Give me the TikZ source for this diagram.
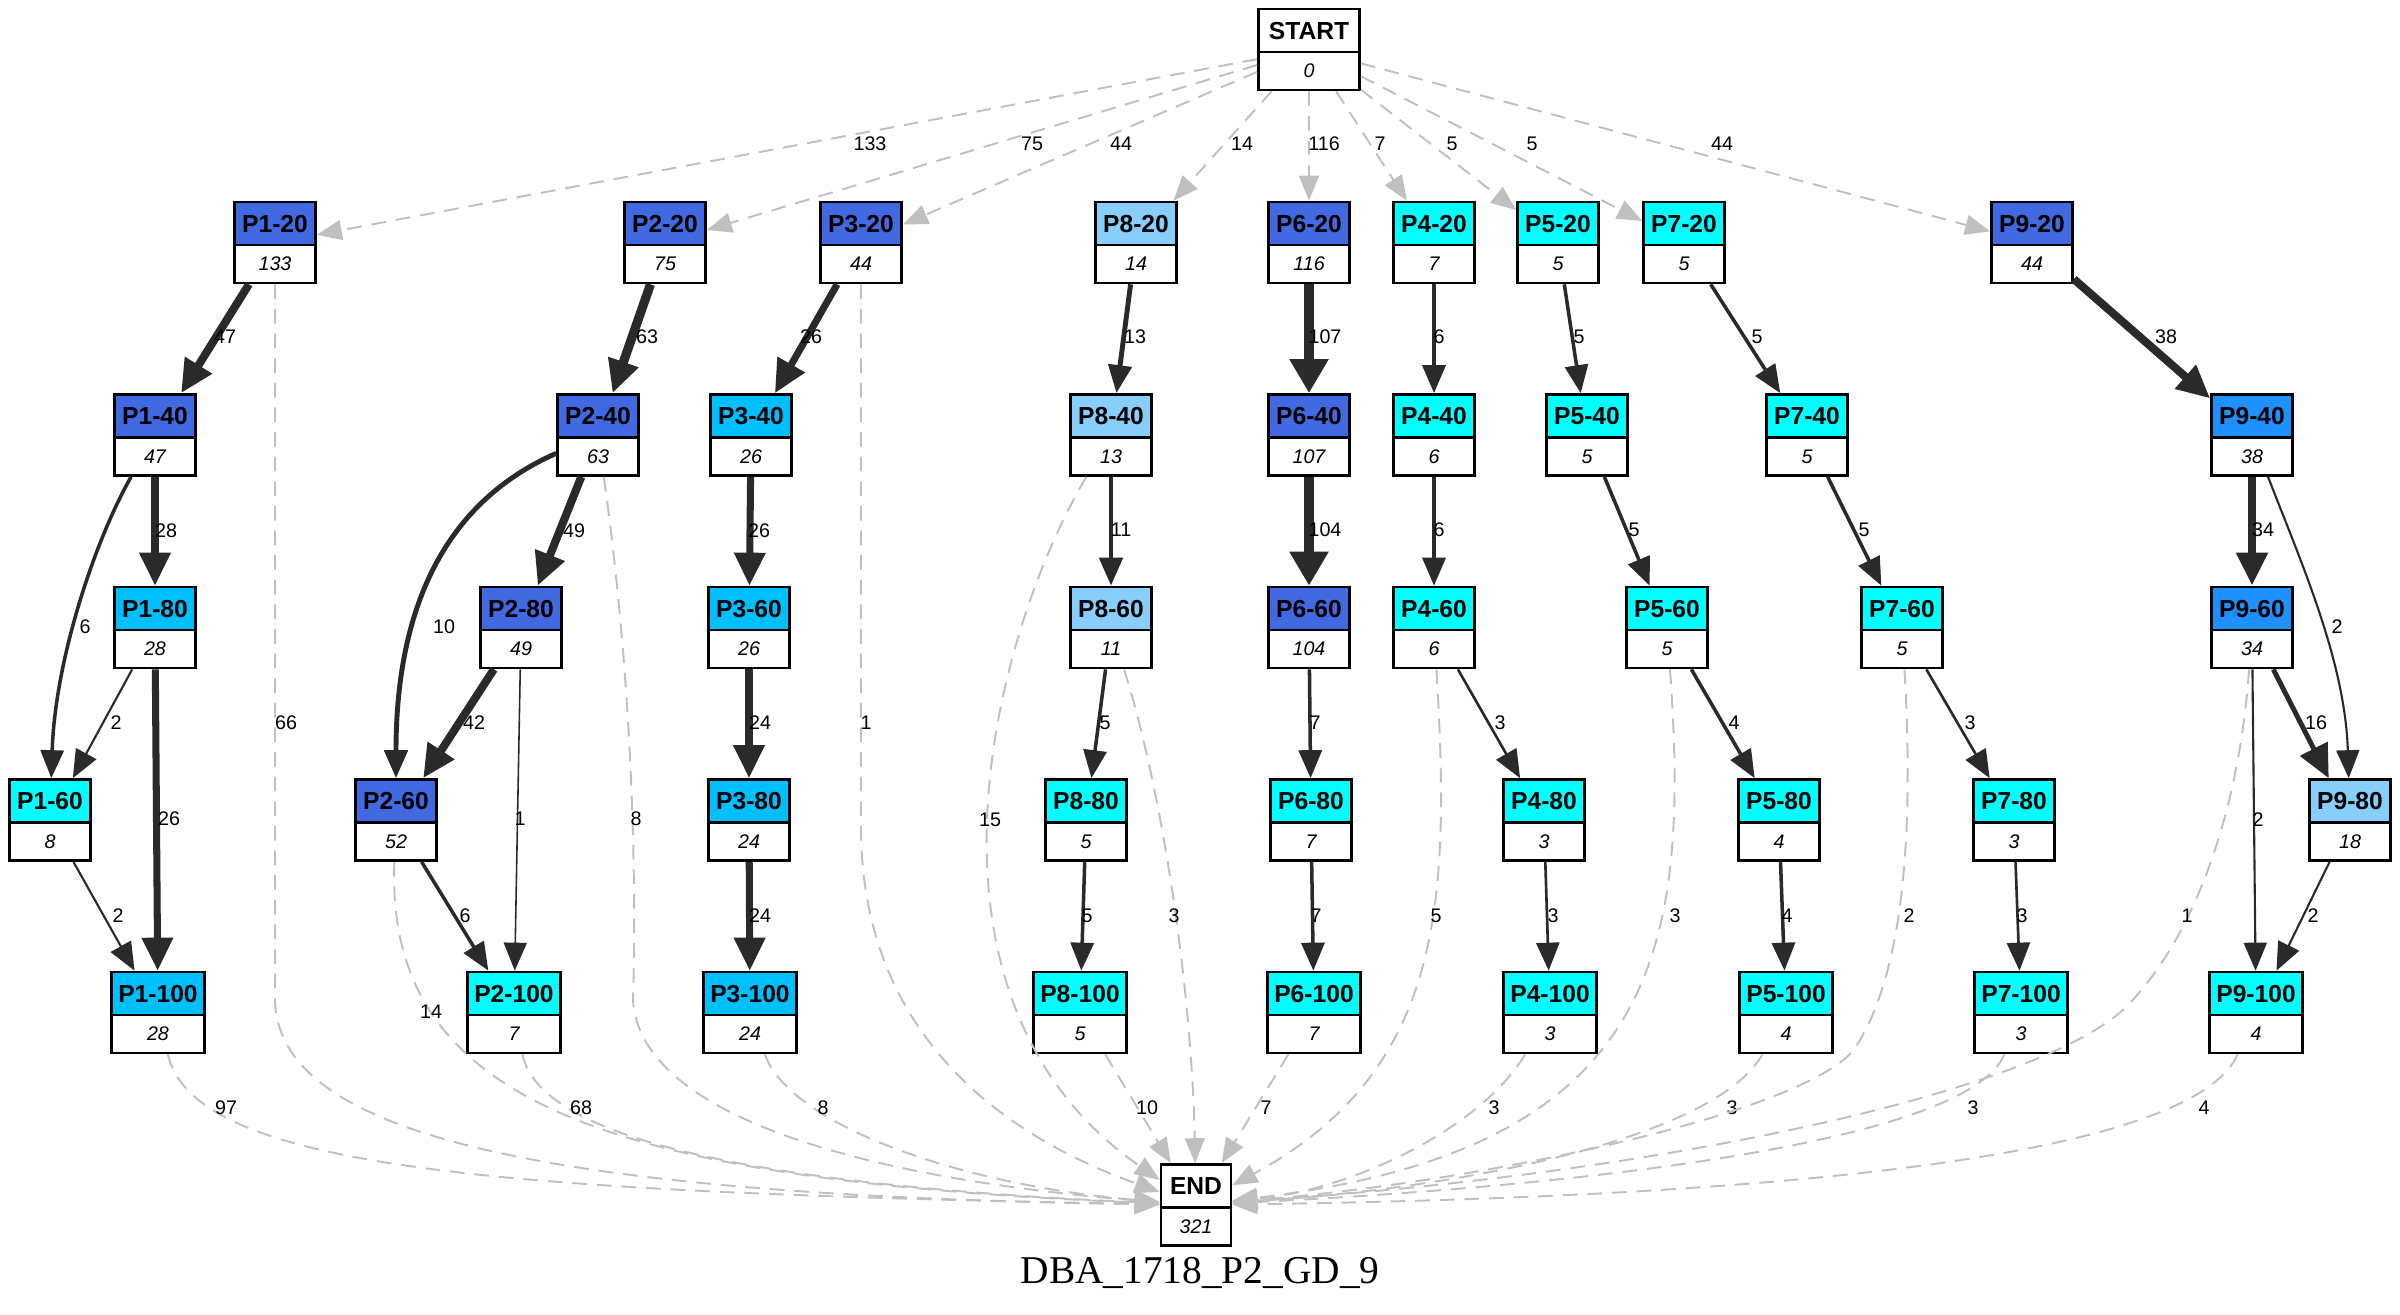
\documentclass[tikz,border=0pt]{standalone}
\usepackage{fontspec}
\setmainfont{Liberation Serif}
\newfontfamily\arialfam{Liberation Sans}
\usetikzlibrary{arrows.meta}
\definecolor{royal}{HTML}{4169E1}
\definecolor{deepsky}{HTML}{00BFFF}
\definecolor{lightsky}{HTML}{87CEFA}
\definecolor{aqua}{HTML}{00FFFF}
\definecolor{dodger}{HTML}{1E90FF}
\definecolor{ink}{HTML}{2A2A2A}
\definecolor{mist}{HTML}{C0C0C0}

\begin{document}
\begin{tikzpicture}[x=0.01cm, y=-0.01cm,
    rec/.style 2 args={draw=black, line width=0.75pt, fill=white,
        inner xsep=0.07cm, inner ysep=0pt, minimum width=0.81cm,
        text height=0.303cm, text depth=0.507cm,
        font=\fontsize{7}{8}\selectfont\arialfam\bfseries,
        path picture={
            \fill[#1] (path picture bounding box.north west) rectangle ([yshift=-0.43cm]path picture bounding box.north east);
            \draw[line width=0.75pt] ([yshift=-0.43cm]path picture bounding box.north west) -- ([yshift=-0.43cm]path picture bounding box.north east);
        },
        label={[vlab]center:#2}},
    vlab/.style={font=\fontsize{5.6}{6.5}\selectfont\arialfam\itshape, inner sep=0pt, yshift=-0.215cm},
    lbl/.style={font=\fontsize{5.6}{6.5}\selectfont\arialfam, inner sep=0pt},
    flow/.style={draw=ink, line width=#1, -{Triangle[length=0.28cm, width=0.23cm]}},
    flowb/.style={draw=ink, line width=#1, -{Triangle[length=0.33cm, width=0.30cm]}},
    flowh/.style={draw=ink, line width=#1, -{Triangle[length=0.34cm, width=0.37cm]}},
    faint/.style={draw=mist, line width=0.55pt, dash pattern=on 4.2pt off 2.8pt,
        -{Triangle[length=0.25cm, width=0.20cm]}}
]
    \useasboundingbox (0,0) rectangle (2400,1314);

    \node[rec={white}{0}, minimum width=1.01cm] (start) at (1309,49.5) {START};

    \node[rec={royal}{133}] (p1-20) at (275,242.5) {P1-20};
    \node[rec={royal}{75}] (p2-20) at (665,242.5) {P2-20};
    \node[rec={royal}{44}] (p3-20) at (861,242.5) {P3-20};
    \node[rec={lightsky}{14}] (p8-20) at (1136,242.5) {P8-20};
    \node[rec={royal}{116}] (p6-20) at (1309,242.5) {P6-20};
    \node[rec={aqua}{7}] (p4-20) at (1434,242.5) {P4-20};
    \node[rec={aqua}{5}] (p5-20) at (1558,242.5) {P5-20};
    \node[rec={aqua}{5}] (p7-20) at (1684,242.5) {P7-20};
    \node[rec={royal}{44}] (p9-20) at (2032,242.5) {P9-20};

    \node[rec={royal}{47}] (p1-40) at (155,435) {P1-40};
    \node[rec={royal}{63}] (p2-40) at (598,435) {P2-40};
    \node[rec={deepsky}{26}] (p3-40) at (751,435) {P3-40};
    \node[rec={lightsky}{13}] (p8-40) at (1111,435) {P8-40};
    \node[rec={royal}{107}] (p6-40) at (1309,435) {P6-40};
    \node[rec={aqua}{6}] (p4-40) at (1434,435) {P4-40};
    \node[rec={aqua}{5}] (p5-40) at (1587,435) {P5-40};
    \node[rec={aqua}{5}] (p7-40) at (1807,435) {P7-40};
    \node[rec={dodger}{38}] (p9-40) at (2252,435) {P9-40};

    \node[rec={deepsky}{28}] (p1-80) at (155,627.5) {P1-80};
    \node[rec={royal}{49}] (p2-80) at (521,627.5) {P2-80};
    \node[rec={deepsky}{26}] (p3-60) at (749,627.5) {P3-60};
    \node[rec={lightsky}{11}] (p8-60) at (1111,627.5) {P8-60};
    \node[rec={royal}{104}] (p6-60) at (1309,627.5) {P6-60};
    \node[rec={aqua}{6}] (p4-60) at (1434,627.5) {P4-60};
    \node[rec={aqua}{5}] (p5-60) at (1667,627.5) {P5-60};
    \node[rec={aqua}{5}] (p7-60) at (1902,627.5) {P7-60};
    \node[rec={dodger}{34}] (p9-60) at (2252,627.5) {P9-60};

    \node[rec={aqua}{8}] (p1-60) at (50,820) {P1-60};
    \node[rec={royal}{52}] (p2-60) at (396,820) {P2-60};
    \node[rec={deepsky}{24}] (p3-80) at (749,820) {P3-80};
    \node[rec={aqua}{5}] (p8-80) at (1086,820) {P8-80};
    \node[rec={aqua}{7}] (p6-80) at (1311,820) {P6-80};
    \node[rec={aqua}{3}] (p4-80) at (1544,820) {P4-80};
    \node[rec={aqua}{4}] (p5-80) at (1779,820) {P5-80};
    \node[rec={aqua}{3}] (p7-80) at (2014,820) {P7-80};
    \node[rec={lightsky}{18}] (p9-80) at (2350,820) {P9-80};

    \node[rec={deepsky}{28}] (p1-100) at (158,1012.5) {P1-100};
    \node[rec={aqua}{7}] (p2-100) at (514,1012.5) {P2-100};
    \node[rec={deepsky}{24}] (p3-100) at (750,1012.5) {P3-100};
    \node[rec={aqua}{5}] (p8-100) at (1080,1012.5) {P8-100};
    \node[rec={aqua}{7}] (p6-100) at (1314,1012.5) {P6-100};
    \node[rec={aqua}{3}] (p4-100) at (1550,1012.5) {P4-100};
    \node[rec={aqua}{4}] (p5-100) at (1786,1012.5) {P5-100};
    \node[rec={aqua}{3}] (p7-100) at (2021,1012.5) {P7-100};
    \node[rec={aqua}{4}] (p9-100) at (2256,1012.5) {P9-100};

    \node[rec={white}{321}, minimum width=0.70cm] (finish) at (1196,1205) {END};

    \node[font=\fontsize{11.2}{13}\selectfont, anchor=base] (title) at (1200,1283) {DBA\_1718\_P2\_GD\_9};

    % from START
    \draw[faint] (start) -- (p1-20) node[lbl, at={(870,144)}] {133};
    \draw[faint] (start) -- (p2-20) node[lbl, at={(1032,144)}] {75};
    \draw[faint] (start) -- (p3-20) node[lbl, at={(1121,144)}] {44};
    \draw[faint] (start) -- (p8-20) node[lbl, at={(1242,144)}] {14};
    \draw[faint] (start) -- (p6-20) node[lbl, at={(1324,144)}] {116};
    \draw[faint] (start) -- (p4-20) node[lbl, at={(1380,144)}] {7};
    \draw[faint] (start) -- (p5-20) node[lbl, at={(1452,144)}] {5};
    \draw[faint] (start) -- (p7-20) node[lbl, at={(1532,144)}] {5};
    \draw[faint] (start) -- (p9-20) node[lbl, at={(1722,144)}] {44};

    % P1
    \draw[flowb=2.3pt] (p1-20) -- (p1-40) node[lbl, at={(225,337)}] {47};
    \draw[flowb=2.0pt] (p1-40) -- (p1-80) node[lbl, at={(166,531)}] {28};
    \draw[flow=1.0pt] (p1-40) .. controls (95,540) and (55,660) .. (p1-60) node[lbl, at={(85,627)}] {6};
    \draw[flow=0.6pt] (p1-80) -- (p1-60) node[lbl, at={(116,723)}] {2};
    \draw[flowb=2.0pt] (p1-80) -- (p1-100) node[lbl, at={(169,819)}] {26};
    \draw[flow=0.6pt] (p1-60) -- (p1-100) node[lbl, at={(118,916)}] {2};
    % P2
    \draw[flowb=2.6pt] (p2-20) -- (p2-40) node[lbl, at={(647,337)}] {63};
    \draw[flowb=2.3pt] (p2-40) -- (p2-80) node[lbl, at={(574,531)}] {49};
    \draw[flow=1.4pt] (p2-40) .. controls (450,500) and (396,600) .. (p2-60) node[lbl, at={(444,627)}] {10};
    \draw[flowb=2.3pt] (p2-80) -- (p2-60) node[lbl, at={(474,723)}] {42};
    \draw[flow=0.45pt] (p2-80) -- (p2-100) node[lbl, at={(520,819)}] {1};
    \draw[flow=1.0pt] (p2-60) -- (p2-100) node[lbl, at={(465,916)}] {6};
    % P3
    \draw[flowb=2.0pt] (p3-20) -- (p3-40) node[lbl, at={(811,337)}] {26};
    \draw[flowb=2.0pt] (p3-40) -- (p3-60) node[lbl, at={(759,531)}] {26};
    \draw[flowb=2.0pt] (p3-60) -- (p3-80) node[lbl, at={(760,723)}] {24};
    \draw[flowb=2.0pt] (p3-80) -- (p3-100) node[lbl, at={(760,916)}] {24};
    % P8
    \draw[flow=1.4pt] (p8-20) -- (p8-40) node[lbl, at={(1135,337)}] {13};
    \draw[flow=1.4pt] (p8-40) -- (p8-60) node[lbl, at={(1121,530)}] {11};
    \draw[flow=1.0pt] (p8-60) -- (p8-80) node[lbl, at={(1105,723)}] {5};
    \draw[flow=1.0pt] (p8-80) -- (p8-100) node[lbl, at={(1087,916)}] {5};
    % P6
    \draw[flowh=2.9pt] (p6-20) -- (p6-40) node[lbl, at={(1325,337)}] {107};
    \draw[flowh=2.9pt] (p6-40) -- (p6-60) node[lbl, at={(1325,530)}] {104};
    \draw[flow=1.0pt] (p6-60) -- (p6-80) node[lbl, at={(1315,723)}] {7};
    \draw[flow=1.0pt] (p6-80) -- (p6-100) node[lbl, at={(1316,916)}] {7};
    % P4
    \draw[flow=1.0pt] (p4-20) -- (p4-40) node[lbl, at={(1439,337)}] {6};
    \draw[flow=1.0pt] (p4-40) -- (p4-60) node[lbl, at={(1439,530)}] {6};
    \draw[flow=0.75pt] (p4-60) -- (p4-80) node[lbl, at={(1500,723)}] {3};
    \draw[flow=0.75pt] (p4-80) -- (p4-100) node[lbl, at={(1553,916)}] {3};
    % P5
    \draw[flow=1.0pt] (p5-20) -- (p5-40) node[lbl, at={(1579,337)}] {5};
    \draw[flow=1.0pt] (p5-40) -- (p5-60) node[lbl, at={(1634,530)}] {5};
    \draw[flow=1.0pt] (p5-60) -- (p5-80) node[lbl, at={(1734,723)}] {4};
    \draw[flow=1.0pt] (p5-80) -- (p5-100) node[lbl, at={(1787,916)}] {4};
    % P7
    \draw[flow=1.0pt] (p7-20) -- (p7-40) node[lbl, at={(1757,337)}] {5};
    \draw[flow=1.0pt] (p7-40) -- (p7-60) node[lbl, at={(1864,530)}] {5};
    \draw[flow=0.75pt] (p7-60) -- (p7-80) node[lbl, at={(1970,723)}] {3};
    \draw[flow=0.75pt] (p7-80) -- (p7-100) node[lbl, at={(2022,916)}] {3};
    % P9
    \draw[flowb=2.3pt] (p9-20) -- (p9-40) node[lbl, at={(2166,337)}] {38};
    \draw[flowb=2.3pt] (p9-40) -- (p9-60) node[lbl, at={(2263,530)}] {34};
    \draw[flow=0.6pt] (p9-40) .. controls (2300,560) and (2345,660) .. (p9-80) node[lbl, at={(2337,627)}] {2};
    \draw[flowb=1.4pt] (p9-60) -- (p9-80) node[lbl, at={(2316,723)}] {16};
    \draw[flow=0.6pt] (p9-60) -- (p9-100) node[lbl, at={(2258,820)}] {2};
    \draw[flow=0.6pt] (p9-80) -- (p9-100) node[lbl, at={(2313,916)}] {2};

    % to END
    \draw[faint] (p1-20) -- (275,1000) .. controls (278,1130) and (520,1195) .. (finish) node[lbl, at={(286,723)}] {66};
    \draw[faint] (p1-100) .. controls (195,1170) and (500,1192) .. (finish) node[lbl, at={(226,1108)}] {97};
    \draw[faint] (p2-60) .. controls (385,1100) and (600,1180) .. (finish) node[lbl, at={(431,1012)}] {14};
    \draw[faint] (p2-100) .. controls (540,1140) and (760,1185) .. (finish) node[lbl, at={(581,1108)}] {68};
    \draw[faint] (p3-100) .. controls (790,1125) and (960,1185) .. (finish) node[lbl, at={(823,1108)}] {8};
    \draw[faint] (p2-40) .. controls (635,700) and (636,900) .. (633,1000) .. controls (640,1120) and (880,1180) .. (finish) node[lbl, at={(636,819)}] {8};
    \draw[faint] (p3-20) -- (861,830) .. controls (862,1000) and (960,1120) .. (finish) node[lbl, at={(866,723)}] {1};
    \draw[faint] (p8-40) .. controls (990,640) and (900,1000) .. (finish) node[lbl, at={(990,820)}] {15};
    \draw[faint] (p8-60) .. controls (1165,800) and (1192,1000) .. (finish) node[lbl, at={(1174,916)}] {3};
    \draw[faint] (p8-100) -- (finish) node[lbl, at={(1147,1108)}] {10};
    \draw[faint] (p6-100) -- (finish) node[lbl, at={(1266,1108)}] {7};
    \draw[faint] (p4-60) .. controls (1450,900) and (1445,1070) .. (finish) node[lbl, at={(1436,916)}] {5};
    \draw[faint] (p4-100) .. controls (1480,1130) and (1350,1190) .. (finish) node[lbl, at={(1494,1108)}] {3};
    \draw[faint] (p5-60) .. controls (1690,950) and (1660,1150) .. (finish) node[lbl, at={(1675,916)}] {3};
    \draw[faint] (p5-100) .. controls (1720,1130) and (1500,1185) .. (finish) node[lbl, at={(1732,1108)}] {3};
    \draw[faint] (p7-60) .. controls (1915,850) and (1900,980) .. (1855,1048) .. controls (1810,1110) and (1500,1180) .. (finish) node[lbl, at={(1909,916)}] {2};
    \draw[faint] (p7-100) .. controls (1970,1140) and (1600,1185) .. (finish) node[lbl, at={(1973,1108)}] {3};
    \draw[faint] (p9-60) .. controls (2240,800) and (2200,930) .. (2128,1005) .. controls (2050,1085) and (1700,1170) .. (finish) node[lbl, at={(2187,916)}] {1};
    \draw[faint] (p9-100) .. controls (2200,1140) and (1900,1195) .. (finish) node[lbl, at={(2204,1108)}] {4};
\end{tikzpicture}
\end{document}
